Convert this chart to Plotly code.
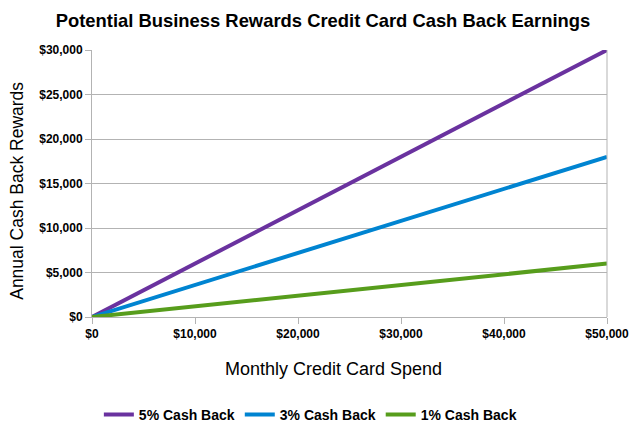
import plotly.graph_objects as go

# monthly spend and annual cash back
monthly_spend = [0, 10000, 20000, 30000, 40000, 50000]
cash_5 = [0, 6000, 12000, 18000, 24000, 30000]
cash_3 = [0, 3600, 7200, 10800, 14400, 18000]
cash_1 = [0, 1200, 2400, 3600, 4800, 6000]

series_names = ["5% Cash Back", "3% Cash Back", "1% Cash Back"]
series_colors = ["#6A329F", "#0084D1", "#579D1C"]

x_ticks = [0, 10000, 20000, 30000, 40000, 50000]
y_ticks = [0, 5000, 10000, 15000, 20000, 25000, 30000]

FONT = "Liberation Sans Narrow, Arial Narrow, Liberation Sans, Arial, sans-serif"
GRID = "#b3b3b3"


def money(v):
    return "<b>${:,}</b>".format(v)


def main():
    fig = go.Figure()
    for name, ys, color in zip(series_names, [cash_5, cash_3, cash_1], series_colors):
        fig.add_trace(
            go.Scatter(
                x=monthly_spend,
                y=ys,
                mode="lines",
                name="<b>" + name + "</b>",
                line=dict(color=color, width=4),
            )
        )

    # page body has an 8px margin, so the figure is sized to fit inside it
    fig.update_layout(
        width=633,
        height=422,
        paper_bgcolor="white",
        plot_bgcolor="white",
        margin=dict(l=84, r=34, t=42, b=113, autoexpand=False),
        font=dict(family=FONT, color="black", size=12),
        title=dict(
            text="<b>Potential Business Rewards Credit Card Cash Back Earnings</b>",
            x=0.4976,
            xanchor="center",
            y=0.971,
            yanchor="middle",
            font=dict(size=18.4, family=FONT),
        ),
        showlegend=True,
        legend=dict(
            orientation="h",
            x=0.424,
            xanchor="center",
            y=-0.367,
            yanchor="middle",
            font=dict(size=14, family=FONT),
        ),
    )

    fig.update_xaxes(
        range=[0, 50000],
        tickvals=x_ticks,
        ticktext=[money(v) for v in x_ticks],
        showgrid=False,
        zeroline=False,
        showline=True,
        linecolor=GRID,
        linewidth=1,
        ticks="outside",
        ticklen=6,
        tickcolor=GRID,
        tickfont=dict(size=12),
        automargin=False,
    )
    fig.update_yaxes(
        range=[0, 30000],
        tickvals=y_ticks,
        ticktext=[money(v) for v in y_ticks],
        showgrid=True,
        gridcolor=GRID,
        gridwidth=1,
        zeroline=False,
        showline=True,
        linecolor=GRID,
        linewidth=1,
        ticks="outside",
        ticklen=6,
        tickcolor=GRID,
        tickfont=dict(size=12),
        automargin=False,
    )

    # axis titles placed as in the reference
    fig.add_annotation(
        text="Monthly Credit Card Spend", xref="paper", yref="paper",
        x=0.468, y=-0.195, xanchor="center", yanchor="middle",
        showarrow=False, font=dict(size=18),
    )
    fig.add_annotation(
        text="Annual Cash Back Rewards", xref="paper", yref="paper",
        x=-0.146, y=0.472, xanchor="center", yanchor="middle",
        textangle=-90, showarrow=False, font=dict(size=17.5),
    )

    # right border of the plot area
    fig.add_shape(
        type="line", xref="paper", yref="paper",
        x0=1, x1=1, y0=0, y1=1,
        line=dict(color=GRID, width=1),
    )

    fig.write_html("out.html")


if __name__ == "__main__":
    main()
